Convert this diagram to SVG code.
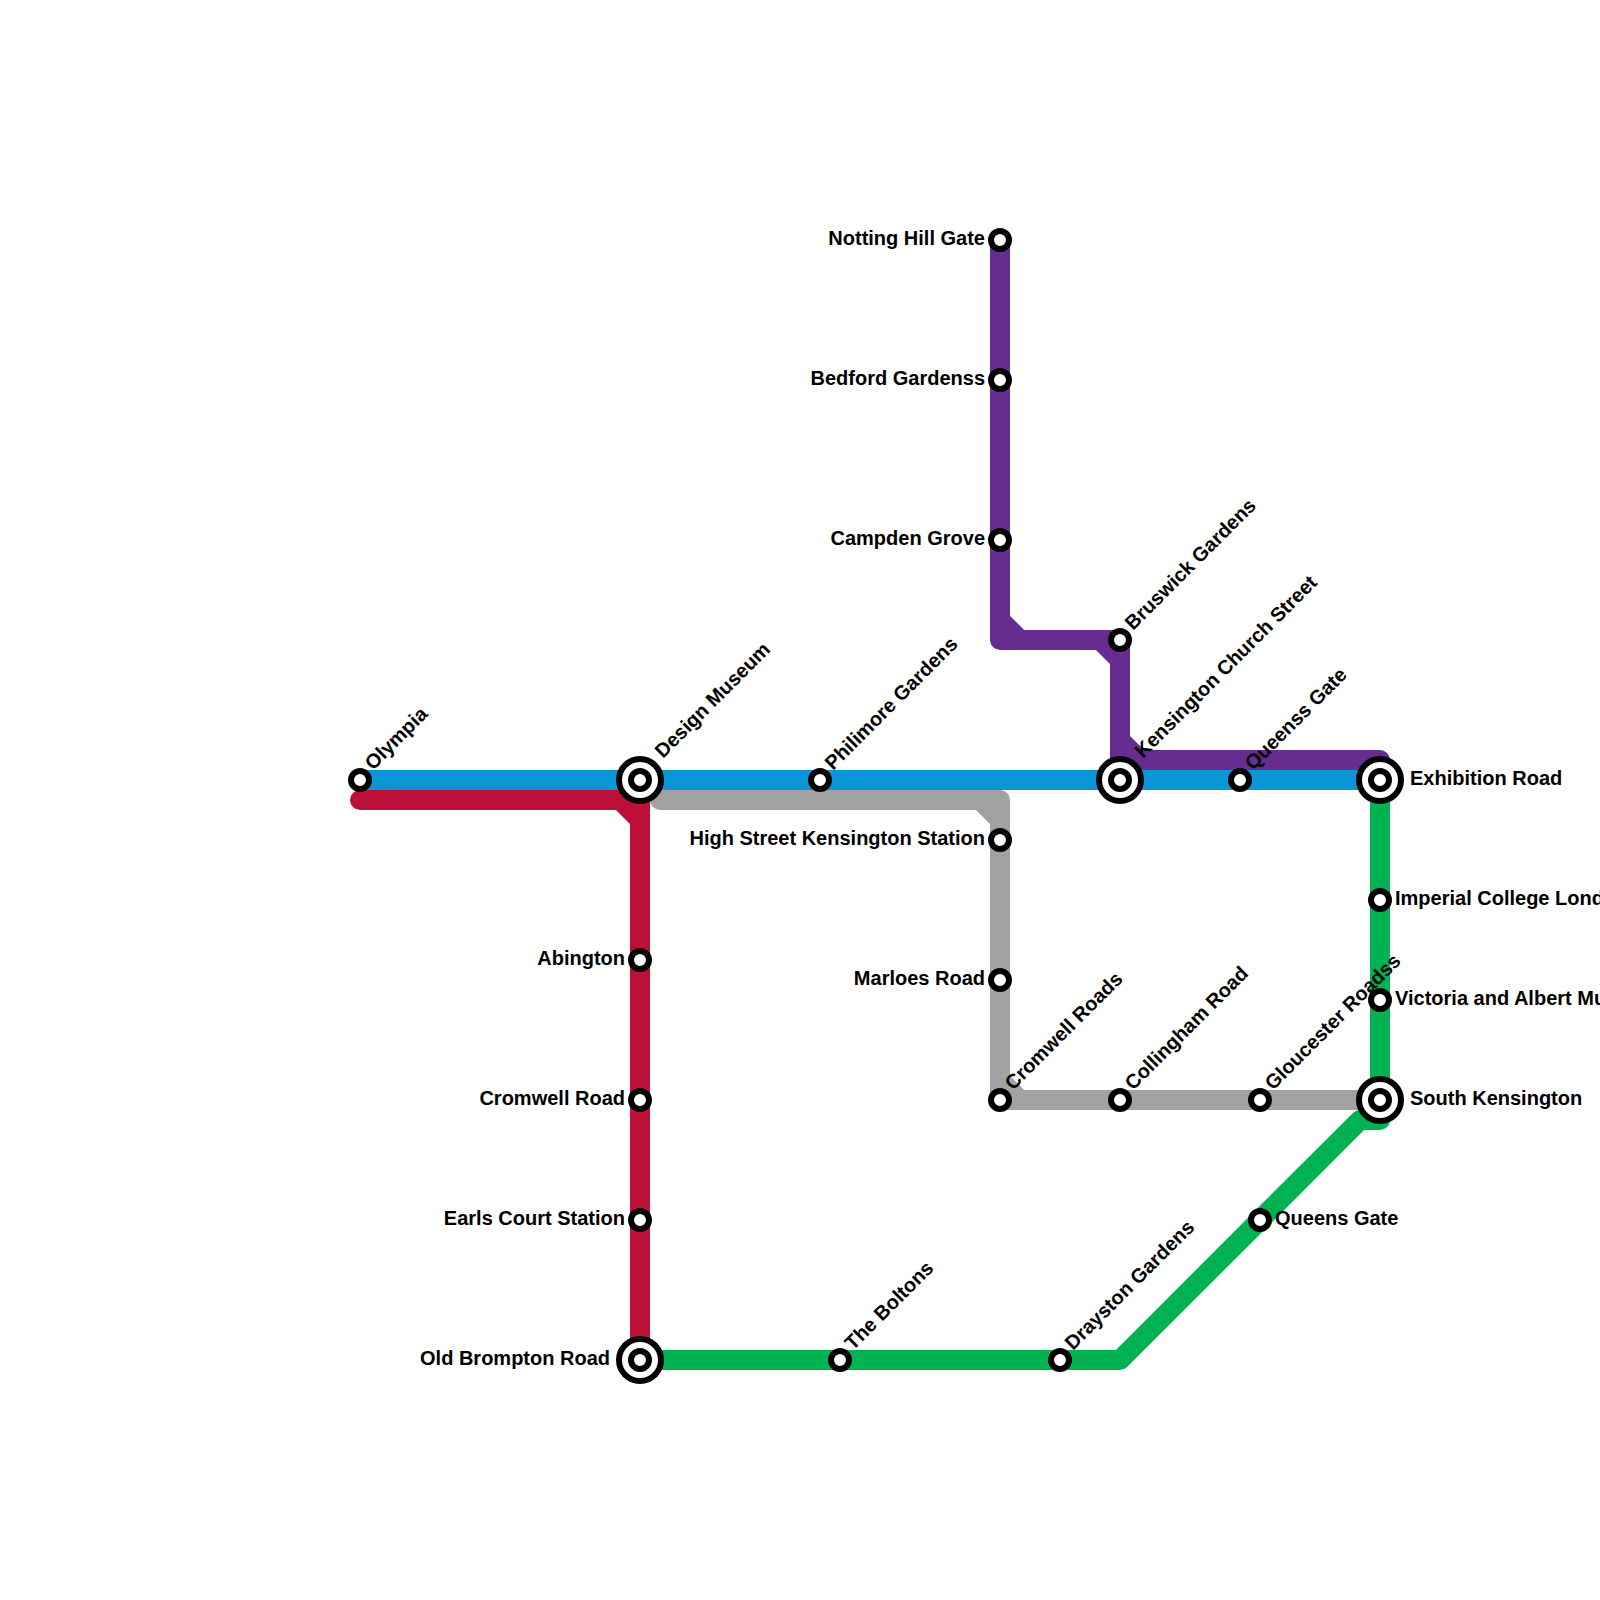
<svg xmlns="http://www.w3.org/2000/svg" width="1600" height="1600" viewBox="0 0 1600 1600">
<style>
.l{fill:none;stroke-width:20;stroke-linecap:round;stroke-linejoin:round}
.s{fill:#fff;stroke:#000;stroke-width:6}
text{font-family:"Liberation Sans",Arial,sans-serif;font-weight:700;font-size:20px;fill:#000}
.e{text-anchor:end}
</style>
<defs>
<g id="st"><circle class="s" r="9"/></g>
<g id="ix"><circle class="s" r="21"/><circle class="s" r="9"/></g>
</defs>
<rect width="1600" height="1600" fill="#fff"/>
<g id="connectors">
<path class="l" stroke="#bd1038" d="M360 800H640V1360M620 800L640 820"/>
<path class="l" stroke="#a2a2a2" d="M660 800H1000V1100H1380M980 800L1000 820M1000 1080L1020 1100"/>
<path class="l" stroke="#662c90" d="M1000 240V640H1120V760H1380M1000 620L1020 640M1100 640L1120 660M1120 740L1140 760"/>
<path class="l" stroke="#0896d7" d="M360 780H1380"/>
<path class="l" stroke="#00b251" d="M660 1360H1120L1360 1120H1380V780"/>
</g>
<g id="olympia"><use href="#st" x="360" y="780"/><text transform="translate(373 771) rotate(-45)">Olympia</text></g>
<g id="design-museum"><use href="#ix" x="640" y="780"/><text transform="translate(663 759) rotate(-45)">Design Museum</text></g>
<g id="philimore-gardens"><use href="#st" x="820" y="780"/><text transform="translate(833 771) rotate(-45)">Philimore Gardens</text></g>
<g id="kensington-church-street"><use href="#ix" x="1120" y="780"/><text transform="translate(1143 759) rotate(-45)">Kensington Church Street</text></g>
<g id="queenss-gate"><use href="#st" x="1240" y="780"/><text transform="translate(1253 771) rotate(-45)">Queenss Gate</text></g>
<g id="exhibition-road"><use href="#ix" x="1380" y="780"/><text x="1410" y="785">Exhibition Road</text></g>
<g id="imperial-college"><use href="#st" x="1380" y="900"/><text x="1395" y="905">Imperial College London</text></g>
<g id="victoria-albert"><use href="#st" x="1380" y="1000"/><text x="1395" y="1005">Victoria and Albert Museum</text></g>
<g id="south-kensington"><use href="#ix" x="1380" y="1100"/><text x="1410" y="1105">South Kensington</text></g>
<g id="queens-gate"><use href="#st" x="1260" y="1220"/><text x="1275" y="1225">Queens Gate</text></g>
<g id="drayston-gardens"><use href="#st" x="1060" y="1360"/><text transform="translate(1073 1351) rotate(-45)">Drayston Gardens</text></g>
<g id="the-boltons"><use href="#st" x="840" y="1360"/><text transform="translate(853 1351) rotate(-45)">The Boltons</text></g>
<g id="old-brompton-road"><use href="#ix" x="640" y="1360"/><text class="e" x="610" y="1365">Old Brompton Road</text></g>
<g id="earls-court-station"><use href="#st" x="640" y="1220"/><text class="e" x="625" y="1225">Earls Court Station</text></g>
<g id="cromwell-road"><use href="#st" x="640" y="1100"/><text class="e" x="625" y="1105">Cromwell Road</text></g>
<g id="abington"><use href="#st" x="640" y="960"/><text class="e" x="625" y="965">Abington</text></g>
<g id="notting-hill-gate"><use href="#st" x="1000" y="240"/><text class="e" x="985" y="245">Notting Hill Gate</text></g>
<g id="bedford-gardenss"><use href="#st" x="1000" y="380"/><text class="e" x="985" y="385">Bedford Gardenss</text></g>
<g id="campden-grove"><use href="#st" x="1000" y="540"/><text class="e" x="985" y="545">Campden Grove</text></g>
<g id="bruswick-gardens"><use href="#st" x="1120" y="640"/><text transform="translate(1133 631) rotate(-45)">Bruswick Gardens</text></g>
<g id="high-street-kensington"><use href="#st" x="1000" y="840"/><text class="e" x="985" y="845">High Street Kensington Station</text></g>
<g id="marloes-road"><use href="#st" x="1000" y="980"/><text class="e" x="985" y="985">Marloes Road</text></g>
<g id="cromwell-roads"><use href="#st" x="1000" y="1100"/><text transform="translate(1013 1091) rotate(-45)">Cromwell Roads</text></g>
<g id="collingham-road"><use href="#st" x="1120" y="1100"/><text transform="translate(1133 1091) rotate(-45)">Collingham Road</text></g>
<g id="gloucester-roadss"><use href="#st" x="1260" y="1100"/><text transform="translate(1273 1091) rotate(-45)">Gloucester Roadss</text></g>
</svg>
